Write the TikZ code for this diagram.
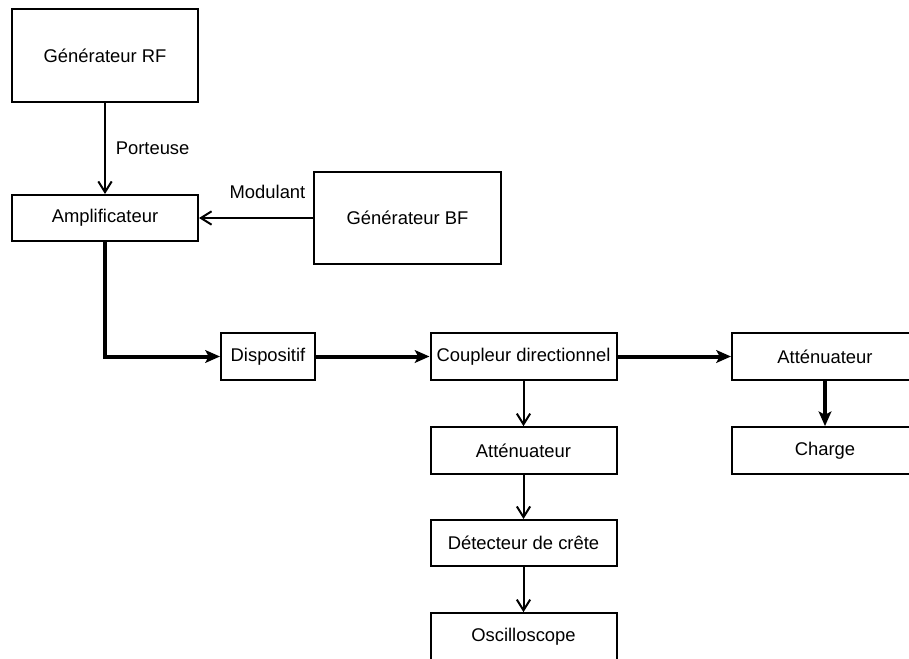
\documentclass[tikz,border=0pt]{standalone}
\usepackage{fontspec}
\setmainfont{Liberation Sans}
\usetikzlibrary{arrows.meta,positioning}
\tikzset{
  block/.style={draw, line width=1.5pt, minimum width=139.5pt, minimum height=35pt, inner sep=2pt, font=\fontsize{13.8}{16}\selectfont},
  big block/.style={block, minimum height=69.5pt},
  signal/.style={-{Straight Barb[length=8pt, width=10pt, line width=1.5pt]}, line width=1.5pt},
  power/.style={-{Stealth[length=11pt, width=9.5pt, inset=2.5pt]}, line width=3pt},
  lbl/.style={font=\fontsize{13.8}{16}\selectfont},
}

\begin{document}
\begin{tikzpicture}[x=0.75pt, y=-0.75pt]
  \useasboundingbox (0,0) rectangle (909,659);

  % Sources
  \node[big block] (rf) at (105,55.5) {Générateur RF};
  \node[block, minimum height=34.5pt] (amp) at (105,218) {Amplificateur};
  \node[big block, minimum width=140pt] (bf) at (407.5,218) {Générateur BF};

  % Main line
  \node[block, minimum width=70.5pt] (disp) at (268,356.5) {Dispositif};
  \node[block] (coup) at (523.5,356.5) {Coupleur directionnel};
  \node[block] (attR) at (825,356.5) {Atténuateur};
  \node[block] (load) at (825,450.5) {Charge};

  % Measurement branch
  \node[block] (attM) at (523.5,450.5) {Atténuateur};
  \node[block, minimum height=34.5pt] (det) at (523.5,543) {Détecteur de crête};
  \node[block] (osc) at (523.5,636.5) {Oscilloscope};

  % Signals
  \draw[signal] (rf) -- node[lbl, right=4pt] {Porteuse} (amp);
  \draw[signal] (bf) -- node[lbl, above=10.5pt, pos=0.4] {Modulant} (amp);
  \draw[signal] (coup) -- (attM);
  \draw[signal] (attM) -- (det);
  \draw[signal] (det) -- (osc);

  % Power path
  \draw[power] (amp.south) |- (disp.west);
  \draw[power] (disp) -- (coup);
  \draw[power] (coup) -- (attR);
  \draw[power] (attR) -- (load);
\end{tikzpicture}
\end{document}
